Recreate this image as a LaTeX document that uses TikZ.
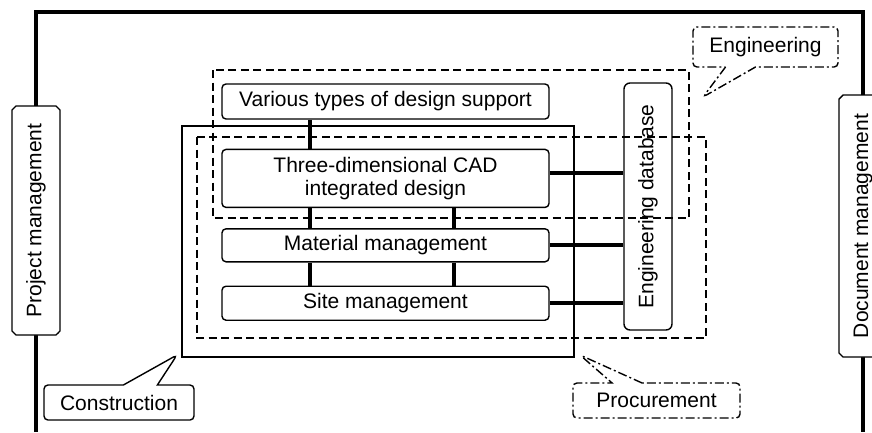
\documentclass[tikz,border=0pt]{standalone}
\usepackage{fontspec}
\setmainfont{Liberation Sans}
\usetikzlibrary{positioning, shapes.misc, shapes.callouts}
\tikzset{
  stagebox/.style = {draw, line width=1.4pt, rounded corners=4pt, fill=white,
                     align=center, minimum width=327pt, inner sep=1pt},
  sidebox/.style  = {draw, line width=1.4pt, chamfered rectangle,
                     chamfered rectangle xsep=2pt, chamfered rectangle ysep=2pt,
                     rotate=90, minimum height=48pt, inner sep=1pt, fill=white},
  dbbox/.style    = {draw, line width=1.4pt, rounded corners=6pt, fill=white,
                     rotate=90, minimum height=48pt, minimum width=247pt},
  areadash/.style = {line width=2.5pt, dash pattern=on 8pt off 4.5pt},
  areasolid/.style= {line width=1.4pt},
  link/.style     = {line width=4pt},
  frameline/.style= {line width=4pt},
  tagsolid/.style = {rectangle callout, draw, line width=1.4pt, rounded corners=4pt,
                     fill=white, inner sep=1pt, callout pointer width=34pt},
  tagdash/.style  = {tagsolid, dash pattern=on 9pt off 3pt on 2pt off 3pt,
                     callout pointer width=30pt},
}

\begin{document}
\begin{tikzpicture}[x=1pt, y=-1pt, font=\fontsize{21}{23}\selectfont]
    \useasboundingbox (0,0) rectangle (872,432);
    % outer frame
    \coordinate (frameBL) at (36,432);
    \coordinate (frameTR) at (863,12);
    \coordinate (frameBR) at (863,432);
    \draw[frameline] (frameBL) |- (frameTR) -- (frameBR);
    \node[sidebox, minimum width=229pt] (pm) at (36,220.5) {Project management};
    \node[sidebox, minimum width=262pt] (dm) at (863,226) {Document management};

    % design stages
    \node[stagebox, minimum height=35pt] (various) at (385.5,101.5) {Various types of design support};
    \node[stagebox, minimum height=58pt, below=29pt of various] (cad) {Three-dimensional CAD\\integrated design};
    \node[stagebox, minimum height=33pt, below=20pt of cad] (mat) {Material management};
    \node[stagebox, minimum height=34pt, below=23pt of mat] (site) {Site management};
    \node[dbbox] (db) at (648,206.5) {Engineering database};

    \coordinate (colA) at (310,0);
    \coordinate (colB) at (454,0);
    \draw[link] (various.south -| colA) -- (cad.north -| colA);
    \foreach \c in {colA, colB} {
      \draw[link] (cad.south -| \c) -- (mat.north -| \c);
      \draw[link] (mat.south -| \c) -- (site.north -| \c);
    }
    \draw[link] ([yshift=5pt]cad.east) -- ([yshift=5pt]cad.east -| db.north);
    \draw[link] (mat.east) -- (mat.east -| db.north);
    \draw[link] (site.east) -- (site.east -| db.north);

    % areas
    \draw[areasolid] (182,126) rectangle (574,357);
    \draw[areadash] (213,70) rectangle (689,218);
    \draw[areadash] (197,137) rectangle (706,338);

    % callouts
    \coordinate (engtip) at (703,97);
    \coordinate (protip) at (580,355);
    \coordinate (contip) at (177,355);
    \node[tagdash, minimum width=145pt, minimum height=40pt,
          callout absolute pointer={(engtip)}] (engtag) at (765.5,47) {Engineering};
    \node[tagdash, minimum width=167pt, minimum height=35pt,
          callout absolute pointer={(protip)}] (protag) at (656.5,400.5) {Procurement};
    \node[tagsolid, minimum width=150pt, minimum height=35pt,
          callout absolute pointer={(contip)}] (contag) at (119,402.5) {Construction};
\end{tikzpicture}
\end{document}
